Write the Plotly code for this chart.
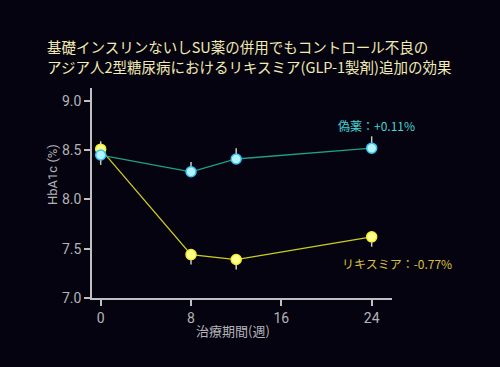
import plotly.graph_objects as go

weeks = [0, 8, 12, 24]
placebo = [8.45, 8.28, 8.41, 8.52]
placebo_err_up = [0.0, 0.10, 0.11, 0.12]
placebo_err_down = [0.10, 0.0, 0.0, 0.0]
lixi = [8.51, 7.44, 7.39, 7.62]
lixi_err_up = [0.08, 0.0, 0.0, 0.0]
lixi_err_down = [0.0, 0.10, 0.10, 0.10]
x_ticks = [0, 8, 16, 24]
y_ticks = [7.0, 7.5, 8.0, 8.5, 9.0]

title_line1 = "基礎インスリンないしSU薬の併用でもコントロール不良の"
title_line2 = "アジア人2型糖尿病におけるリキスミア(GLP-1製剤)追加の効果"
placebo_label = "偽薬：+0.11%"
lixi_label = "リキスミア：-0.77%"

BG = "#05030f"
GRAY = "#b4b4b8"
FONT = "Noto Sans CJK JP"
TITLE_COLOR = "#f0eab4"

fig = go.Figure()
fig.add_trace(go.Scatter(
    x=weeks, y=lixi, mode="lines+markers",
    line=dict(color="#cccc22", width=1.3),
    marker=dict(size=10, color="#ffff8c", line=dict(color="#f2f030", width=1.5)),
    error_y=dict(type="data", symmetric=False, array=lixi_err_up, arrayminus=lixi_err_down,
                 color="#c8c8c8", thickness=1.5, width=0),
    showlegend=False,
))
fig.add_trace(go.Scatter(
    x=weeks, y=placebo, mode="lines+markers",
    line=dict(color="#1fa088", width=1.3),
    marker=dict(size=10, color="#b4f4ff", line=dict(color="#38c4f0", width=1.5)),
    error_y=dict(type="data", symmetric=False, array=placebo_err_up, arrayminus=placebo_err_down,
                 color="#c8c8c8", thickness=1.5, width=0),
    showlegend=False,
))

fig.update_layout(
    width=500, height=367,
    paper_bgcolor=BG, plot_bgcolor=BG,
    margin=dict(l=92, r=108, t=88, b=69),
    font=dict(family=FONT, color=GRAY),
    xaxis=dict(range=[-0.77, 25.8], tickvals=x_ticks, showgrid=False, zeroline=False,
               showline=True, linecolor="#c0c0c0", linewidth=1.5,
               ticks="outside", ticklen=6, tickcolor="#c0c0c0", tickwidth=1.5,
               tickfont=dict(family="Roboto", size=14, color=GRAY)),
    yaxis=dict(range=[7.0, 9.13], tickvals=y_ticks, tickformat=".1f", showgrid=False, zeroline=False,
               showline=True, linecolor="#c0c0c0", linewidth=1.5,
               ticks="outside", ticklen=6, tickcolor="#c0c0c0", tickwidth=1.5,
               tickfont=dict(family="Roboto", size=14, color=GRAY)),
    annotations=[
        dict(text=title_line1, x=(45-92)/300, y=(298-46.5)/210, xref="paper", yref="paper",
             xanchor="left", yanchor="middle", showarrow=False,
             font=dict(family=FONT, size=14.5, color=TITLE_COLOR)),
        dict(text=title_line2, x=(45-92)/300, y=(298-66.5)/210, xref="paper", yref="paper",
             xanchor="left", yanchor="middle", showarrow=False,
             font=dict(family=FONT, size=14.5, color=TITLE_COLOR)),
        dict(text=placebo_label, x=(376-92)/300, y=(298-125)/210, xref="paper", yref="paper",
             xanchor="center", yanchor="middle", showarrow=False,
             font=dict(family=FONT, size=12, color="#44d4d4")),
        dict(text=lixi_label, x=(397-92)/300, y=(298-263)/210, xref="paper", yref="paper",
             xanchor="center", yanchor="middle", showarrow=False,
             font=dict(family=FONT, size=12, color="#d8c040")),
        dict(text="治療期間(週)", x=(233-92)/300, y=-(330-298)/210, xref="paper", yref="paper",
             xanchor="center", yanchor="middle",
             showarrow=False, font=dict(family=FONT, size=13, color=GRAY)),
        dict(text="HbA1c (%)", x=(52-92)/300, y=(298-175)/210, xref="paper", yref="paper",
             xanchor="center", yanchor="middle",
             textangle=-90, showarrow=False, font=dict(family="Roboto", size=13, color=GRAY)),
    ],
)

fig.write_html("out.html", config={"displayModeBar": False},
               post_script="document.body.style.margin='0';document.body.style.background='#05030f';")
